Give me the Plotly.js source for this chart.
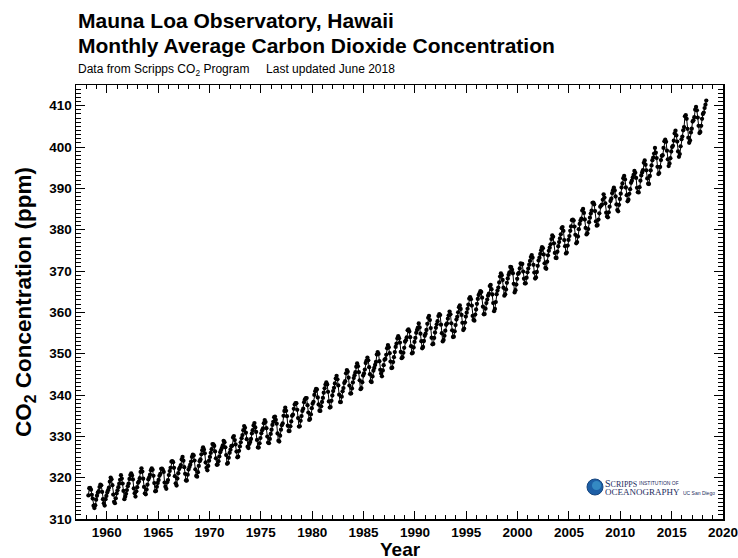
<!DOCTYPE html>
<html>
<head>
<meta charset="utf-8">
<script src="https://cdn.plot.ly/plotly-3.0.1.min.js"></script>
<style>html,body{margin:0;padding:0;background:#fff;}#chart{width:738px;height:558px;}</style>
</head>
<body>
<div id="chart"></div>
<script>
// Monthly average CO2 (ppm) at Mauna Loa, starting March 1958
const startYear = 1958;
const startMonth = 3;
const co2_1950s = [315.71,317.45,317.50,317.10,315.86,314.93,313.20,312.66,313.33,314.67,
  315.62,316.38,316.71,317.72,318.29,318.15,316.54,314.80,313.84,313.26,314.80,315.58];
const co2_1960s = [
  316.43,316.97,317.58,319.02,320.03,319.59,318.18,315.91,314.16,313.83,315.00,316.19,
  316.93,317.70,318.54,319.48,320.58,319.77,318.57,316.79,314.80,315.38,316.10,317.01,
  317.94,318.56,319.68,320.63,321.01,320.55,319.58,317.40,316.26,315.42,316.69,317.69,
  318.74,319.08,319.86,321.39,322.25,321.47,319.74,317.77,316.21,315.99,317.12,318.31,
  319.57,320.07,320.73,321.77,322.25,321.89,320.44,318.70,316.70,316.79,317.79,318.71,
  319.44,320.44,320.89,322.13,322.16,321.87,321.39,318.81,317.81,317.30,318.87,319.42,
  320.62,321.59,322.39,323.87,324.01,323.75,322.39,320.37,318.64,318.10,319.79,321.08,
  322.07,322.50,323.04,324.42,325.00,324.09,322.55,320.92,319.31,319.31,320.72,321.96,
  322.57,323.15,323.89,325.02,325.57,325.36,324.14,322.03,320.41,320.25,321.31,322.84,
  324.00,324.42,325.64,326.66,327.34,326.76,325.88,323.67,322.38,321.78,322.85,324.12];
const co2_1970s = [
  325.03,325.99,326.87,328.13,328.07,327.66,326.35,324.69,323.10,323.16,323.98,325.13,
  326.17,326.68,327.18,327.78,328.92,328.57,327.34,325.46,323.36,323.57,324.80,326.01,
  326.77,327.63,327.75,329.72,330.07,329.09,328.05,326.32,324.93,325.06,326.50,327.55,
  328.54,329.56,330.30,331.50,332.48,332.07,330.87,329.31,327.51,327.18,328.16,328.64,
  329.35,330.71,331.48,332.65,333.20,332.16,331.07,329.12,327.32,327.28,328.30,329.58,
  330.73,331.46,331.90,333.17,333.94,333.45,331.98,329.95,328.50,328.34,329.37,330.58,
  331.59,332.75,333.52,334.64,334.77,334.00,333.06,330.68,328.95,328.75,330.15,331.62,
  332.66,333.13,334.95,336.13,336.93,336.17,334.88,332.56,331.29,331.27,332.41,333.60,
  334.95,335.25,336.66,337.69,338.03,338.01,336.41,334.41,332.37,332.41,333.75,334.90,
  336.14,336.69,338.27,338.96,339.21,339.26,337.54,335.75,333.98,334.19,335.31,336.81];
const co2_1980s = [
  337.90,338.34,340.01,340.93,341.48,341.33,339.40,337.70,336.19,336.15,337.27,338.32,
  339.29,340.55,341.61,342.53,343.03,342.54,340.78,338.44,336.95,337.08,338.58,339.88,
  340.96,341.73,342.81,343.97,344.63,343.79,342.32,340.09,338.28,338.29,339.60,340.90,
  341.68,342.90,343.33,345.25,346.03,345.63,344.19,342.27,340.35,340.38,341.59,343.05,
  344.10,344.79,345.52,346.84,347.63,346.98,345.53,343.55,341.40,341.67,343.10,344.70,
  345.21,346.16,347.74,348.34,349.06,348.38,346.72,345.02,343.27,343.13,344.49,345.88,
  346.56,347.28,348.01,349.77,350.38,349.93,348.16,346.08,345.22,344.51,345.93,347.22,
  348.52,348.73,349.73,351.31,352.09,351.53,350.11,348.08,346.52,346.59,347.96,349.16,
  350.39,351.64,352.41,353.69,354.21,353.72,352.69,350.40,348.92,349.13,350.20,351.41,
  352.91,353.27,353.96,355.64,355.86,355.37,353.99,351.81,350.05,350.25,351.49,352.85];
const co2_1990s = [
  353.80,355.04,355.73,356.32,357.32,356.34,354.84,353.01,351.31,351.62,353.07,354.33,
  354.84,355.73,357.23,358.66,359.13,358.13,356.19,353.85,352.25,352.35,353.81,355.12,
  356.25,357.11,357.86,359.09,359.59,359.33,357.01,354.94,352.96,353.32,354.32,355.57,
  357.00,357.31,358.47,359.27,360.19,359.52,357.33,355.64,354.03,354.12,355.41,356.91,
  358.24,358.92,359.99,361.23,361.65,360.81,359.38,357.46,355.73,356.07,357.53,358.98,
  359.92,360.86,361.83,363.30,363.69,363.19,361.64,359.12,358.17,357.99,359.45,360.68,
  362.07,363.24,364.17,364.57,365.13,364.92,363.55,361.38,359.54,359.58,360.89,362.24,
  363.09,364.03,364.51,366.35,366.64,365.59,364.31,362.25,360.29,360.82,362.49,364.38,
  365.26,365.98,367.24,368.66,369.42,368.99,367.82,365.95,364.02,364.40,365.52,367.13,
  368.18,369.07,369.68,370.99,370.96,370.30,369.45,366.90,364.81,365.37,366.72,368.10];
const co2_2000s = [
  369.29,369.54,370.60,371.81,371.58,371.70,369.86,368.13,367.00,367.03,368.37,369.67,
  370.59,371.51,372.43,373.37,373.85,373.22,371.50,369.61,368.18,368.45,369.76,371.24,
  372.53,373.20,374.12,375.02,375.76,375.52,374.01,371.85,370.75,370.55,372.25,373.79,
  374.88,375.64,376.45,377.73,378.60,378.28,376.70,374.38,373.17,373.14,374.66,375.99,
  377.00,377.87,378.88,380.35,380.62,379.69,377.47,376.01,374.25,374.46,376.16,377.51,
  378.46,379.73,380.77,382.29,382.45,382.21,380.74,378.74,376.70,377.00,378.35,380.11,
  381.38,382.19,382.67,384.61,385.03,384.05,382.46,380.41,378.85,379.13,380.15,381.82,
  382.89,383.90,384.58,386.50,386.56,386.10,384.50,381.99,380.96,381.12,382.45,383.95,
  385.52,385.82,386.03,387.21,388.54,387.76,386.36,384.09,383.18,382.99,384.19,385.56,
  386.94,387.48,388.82,389.55,390.14,389.48,388.03,386.11,384.74,384.43,386.02,387.42];
const co2_2010s = [
  388.71,390.20,391.17,392.46,393.00,392.15,390.20,388.35,386.85,387.24,388.67,389.79,
  391.33,391.86,392.60,393.25,394.19,393.74,392.51,390.13,389.08,389.00,390.28,391.86,
  393.12,393.86,394.40,396.18,396.74,395.71,394.36,392.39,391.11,391.05,392.98,394.34,
  395.55,396.80,397.43,398.41,399.78,398.61,397.32,395.20,393.45,393.70,395.16,396.84,
  397.85,398.01,399.77,401.38,401.78,401.25,399.10,397.03,395.38,396.03,397.28,398.91,
  399.98,400.28,401.54,403.28,403.96,402.80,401.31,398.93,397.63,398.29,400.16,401.85,
  402.52,404.04,404.83,407.42,407.70,406.81,404.39,402.25,401.03,401.57,403.53,404.42,
  406.17,406.46,407.22,409.04,409.69,408.88,407.12,405.13,403.37,403.63,405.12,406.81,
  407.96,408.32,409.41,410.24,411.24];

const xTickVals = [1960,1965,1970,1975,1980,1985,1990,1995,2000,2005,2010,2015,2020];
const yTickVals = [310,320,330,340,350,360,370,380,390,400,410];
const xRange = [1957, 2020];
const yRange = [310, 415];

const co2 = [].concat(co2_1950s, co2_1960s, co2_1970s, co2_1980s, co2_1990s, co2_2000s, co2_2010s);
const dates = co2.map((v, i) => startYear + (startMonth - 1 + i + 0.5) / 12);

const trace = {
  x: dates, y: co2, type: 'scatter', mode: 'lines+markers',
  line: {color: '#000', width: 1},
  marker: {color: '#000', size: 4.3},
  hoverinfo: 'x+y', showlegend: false
};
// empty trace that only attaches the top/right tick frame axes
const frameTrace = {x: [], y: [], xaxis: 'x2', yaxis: 'y2', type: 'scatter', mode: 'markers', showlegend: false, hoverinfo: 'skip'};

const L = 76, R = 15, T = 85, B = 39, W = 738, H = 558;
const pw = W - L - R, ph = H - T - B;
const px = v => (v - L) / pw;
const py = v => (H - B - v) / ph;

const FAM = 'Liberation Sans, Arial, sans-serif';
const tickFont = {family: FAM, size: 13.5, color: '#000', weight: 'bold'};
const xMinor = {dtick: 1, tick0: 1957, ticks: 'inside', ticklen: 4, tickwidth: 1, tickcolor: '#000'};
const yMinor = {dtick: 1, tick0: 310, ticks: 'inside', ticklen: 5, tickwidth: 1, tickcolor: '#000'};

const layout = {
  width: W, height: H,
  margin: {l: L, r: R, t: T, b: B, pad: 0},
  paper_bgcolor: '#fff', plot_bgcolor: 'rgba(0,0,0,0)',
  font: {family: FAM, color: '#000'},
  xaxis: {
    range: xRange, tickmode: 'array', tickvals: xTickVals,
    ticks: 'inside', ticklen: 8, tickwidth: 1, tickcolor: '#000', minor: xMinor,
    showline: true, linecolor: '#000', linewidth: 1.5, mirror: 'allticks',
    showgrid: false, zeroline: false, tickfont: tickFont, ticklabeloverflow: 'allow',
    layer: 'above traces'
  },
  yaxis: {
    range: yRange, tickmode: 'array', tickvals: yTickVals,
    ticks: 'inside', ticklen: 9, tickwidth: 1, tickcolor: '#000', minor: yMinor,
    showline: true, linecolor: '#000', linewidth: 1.5, mirror: 'allticks',
    showgrid: false, zeroline: false, tickfont: tickFont, layer: 'above traces',
    title: {text: 'CO<sub>2</sub> Concentration (ppm)', font: {family: FAM, size: 22.5, color: '#000', weight: 'bold'}, standoff: 11}
  },
  xaxis2: {
    range: xRange, side: 'top', anchor: 'y2', tickmode: 'array', tickvals: xTickVals,
    ticks: 'inside', ticklen: 8, tickwidth: 1, tickcolor: '#000', minor: xMinor,
    showline: true, linecolor: '#000', linewidth: 1.5, showticklabels: false,
    showgrid: false, zeroline: false
  },
  yaxis2: {
    range: yRange, side: 'right', anchor: 'x2', tickmode: 'array', tickvals: yTickVals,
    ticks: 'inside', ticklen: 9, tickwidth: 1, tickcolor: '#000', minor: yMinor,
    showline: true, linecolor: '#000', linewidth: 1.5, showticklabels: false,
    showgrid: false, zeroline: false
  },
  shapes: [
    {type: 'circle', xref: 'paper', yref: 'paper', x0: px(587), x1: px(603), y0: py(495), y1: py(479),
     fillcolor: '#1d5fa6', line: {color: '#16457e', width: 1}},
    {type: 'circle', xref: 'paper', yref: 'paper', x0: px(592), x1: px(601), y0: py(490), y1: py(481),
     fillcolor: '#3f9bd0', line: {width: 0}, opacity: 0.7}
  ],
  annotations: [
    {text: 'Mauna Loa Observatory, Hawaii', xref: 'paper', yref: 'paper', x: 0, y: 1 + (T - 20.5) / ph,
     xanchor: 'left', yanchor: 'middle', showarrow: false,
     font: {family: FAM, size: 21, color: '#000', weight: 'bold'}},
    {text: 'Monthly Average Carbon Dioxide Concentration', xref: 'paper', yref: 'paper', x: 0, y: 1 + (T - 45.5) / ph,
     xanchor: 'left', yanchor: 'middle', showarrow: false,
     font: {family: FAM, size: 21, color: '#000', weight: 'bold'}},
    {text: 'Data from Scripps CO<sub>2</sub> Program     Last updated June 2018', xref: 'paper', yref: 'paper', x: 0, y: 1 + (T - 70) / ph,
     xanchor: 'left', yanchor: 'middle', showarrow: false,
     font: {family: FAM, size: 12, color: '#000'}},
    {text: 'Year', xref: 'paper', yref: 'paper', x: px(400), y: py(549), height: 16,
     xanchor: 'center', yanchor: 'middle', showarrow: false,
     font: {family: FAM, size: 19, color: '#000', weight: 'bold'}},
    {text: 'S<span style="font-size:8px">CRIPPS</span>', xref: 'paper', yref: 'paper', x: px(603), y: py(483), height: 8,
     xanchor: 'left', yanchor: 'middle', showarrow: false,
     font: {family: 'Liberation Serif, serif', size: 10, color: '#1c2c5e'}},
    {text: 'INSTITUTION OF', xref: 'paper', yref: 'paper', x: px(637), y: py(483), height: 6,
     xanchor: 'left', yanchor: 'middle', showarrow: false,
     font: {family: FAM, size: 5, color: '#1c2c5e'}},
    {text: 'OCEANOGRAPHY', xref: 'paper', yref: 'paper', x: px(603), y: py(492), height: 8,
     xanchor: 'left', yanchor: 'middle', showarrow: false,
     font: {family: 'Liberation Serif, serif', size: 9, color: '#1c2c5e'}},
    {text: 'UC San Diego', xref: 'paper', yref: 'paper', x: px(681), y: py(493), height: 6,
     xanchor: 'left', yanchor: 'middle', showarrow: false,
     font: {family: FAM, size: 5, color: '#1c2c5e'}}
  ]
};

Plotly.newPlot('chart', [trace, frameTrace], layout, {displayModeBar: false, staticPlot: true});
</script>
</body>
</html>
